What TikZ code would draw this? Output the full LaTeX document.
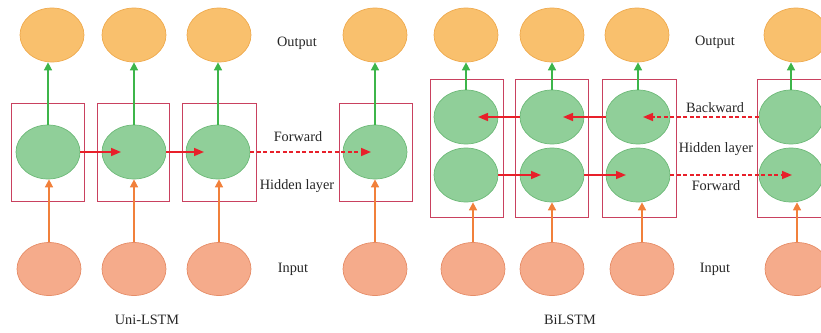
\documentclass[tikz,border=0pt]{standalone}
\usepackage{fontspec}
\setmainfont{Liberation Serif}
\usetikzlibrary{shapes.geometric,arrows.meta}
\definecolor{outfill}{HTML}{F9C06D}
\definecolor{outdraw}{HTML}{EFAA4E}
\definecolor{hidfill}{HTML}{90CF99}
\definecolor{hiddraw}{HTML}{6DB978}
\definecolor{infill}{HTML}{F5AB8B}
\definecolor{indraw}{HTML}{E68D68}
\definecolor{boxc}{HTML}{C9415F}
\definecolor{redarr}{HTML}{E8202A}
\definecolor{grnarr}{HTML}{3DB54A}
\definecolor{orarr}{HTML}{F1803B}
\tikzset{
  outell/.style={ellipse,draw=outdraw,fill=outfill,line width=0.7pt,minimum width=64pt,minimum height=54pt,inner sep=0pt},
  hidell/.style={ellipse,draw=hiddraw,fill=hidfill,line width=0.7pt,minimum width=64pt,minimum height=54pt,inner sep=0pt},
  inell/.style={ellipse,draw=indraw,fill=infill,line width=0.7pt,minimum width=64pt,minimum height=53pt,inner sep=0pt},
  cellbox/.style={draw=boxc,line width=0.9pt},
  redfw/.style={draw=redarr,line width=1.5pt,-{Triangle[length=10pt,width=8pt]}},
  reddash/.style={redfw,dashed,dash pattern=on 4pt off 2.5pt},
  grnup/.style={draw=grnarr,line width=1.5pt,-{Triangle[length=8pt,width=8pt]}},
  orup/.style={draw=orarr,line width=1.5pt,-{Triangle[length=8pt,width=8pt]}},
  lbl/.style={font=\fontsize{14.3pt}{16pt}\selectfont,text=black!85,inner sep=0pt}
}
\begin{document}
\begin{tikzpicture}[x=1pt,y=-1pt]
\useasboundingbox (0,0) rectangle (821,332);
\begin{scope}
\clip (0,0) rectangle (821,332);
% ---------------- Uni-LSTM ----------------
\draw[cellbox] (11,103) rectangle (84,201);
\draw[cellbox] (97,103) rectangle (169,201);
\draw[cellbox] (182,103) rectangle (256,201);
\draw[cellbox] (339,103) rectangle (412,201);

\node[outell] (uo1) at (52,35) {};
\node[outell] (uo2) at (134,35) {};
\node[outell] (uo3) at (219,35) {};
\node[outell] (uo4) at (375,35) {};

\node[hidell] (uh1) at (48,152) {};
\node[hidell] (uh2) at (134,152) {};
\node[hidell] (uh3) at (218,152) {};
\node[hidell] (uh4) at (375,152) {};

\node[inell] (ui1) at (49,269) {};
\node[inell] (ui2) at (134,269) {};
\node[inell] (ui3) at (219,269) {};
\node[inell] (ui4) at (375,269) {};

\foreach \i in {1,2,3,4}{
  \draw[grnup] (uh\i.north) -- (uh\i.north |- uo\i.south);
  \draw[orup] (ui\i.north) -- (ui\i.north |- uh\i.south);
}
\draw[redfw] (uh1.east) -- ([xshift=-13pt]uh2.center);
\draw[redfw] (uh2.east) -- ([xshift=-14pt]uh3.center);
\draw[reddash] (uh3.east) -- ([xshift=-4pt]uh4.center);

\node[lbl] (uoutl) at (297,43) {Output};
\node[lbl] (ufwl) at (298,137) {Forward};
\node[lbl] (uhidl) at (297,186) {Hidden layer};
\node[lbl] (uinl) at (293,269) {Input};
\node[lbl] (utitle) at (147,320) {Uni-LSTM};

% ---------------- BiLSTM ----------------
\draw[cellbox] (430,79) rectangle (503,217);
\draw[cellbox] (515,79) rectangle (588,217);
\draw[cellbox] (602,79) rectangle (676,217);
\draw[cellbox] (757,79) rectangle (832,217);

\node[outell] (bo1) at (466,35) {};
\node[outell] (bo2) at (552,35) {};
\node[outell] (bo3) at (637,35) {};
\node[outell] (bo4) at (796,35) {};

\node[hidell] (bb1) at (466,117) {};
\node[hidell] (bb2) at (552,117) {};
\node[hidell] (bb3) at (638,117) {};
\node[hidell] (bb4) at (791,117) {};

\node[hidell] (bf1) at (466,175) {};
\node[hidell] (bf2) at (552,175) {};
\node[hidell] (bf3) at (638,175) {};
\node[hidell] (bf4) at (791,175) {};

\node[inell] (bi1) at (473,269) {};
\node[inell] (bi2) at (552,269) {};
\node[inell] (bi3) at (642,269) {};
\node[inell] (bi4) at (797,269) {};

\foreach \i in {1,2,3,4}{
  \draw[grnup] (bb\i.north) -- (bb\i.north |- bo\i.south);
}
\draw[orup] (bi1.north) -- (bi1.north |- bf1.south);
\draw[orup] (bi2.north) -- (bi2.north |- bf2.south);
\draw[orup] (bi3.north) -- (bi3.north |- bf3.south);
\draw[orup] (bi4.north) -- (bi4.north |- bf4.south);

\draw[redfw] (bb2.west) -- ([xshift=12pt]bb1.center);
\draw[redfw] (bb3.west) -- ([xshift=11pt]bb2.center);
\draw[reddash] (bb4.west) -- ([xshift=5pt]bb3.center);

\draw[redfw] (bf1.east) -- ([xshift=-11pt]bf2.center);
\draw[redfw] (bf2.east) -- ([xshift=-12pt]bf3.center);
\draw[reddash] (bf3.east) -- ([xshift=1pt]bf4.center);

\node[lbl] (boutl) at (715,42) {Output};
\node[lbl] (bbwl) at (715,108) {Backward};
\node[lbl] (bhidl) at (716,149) {Hidden layer};
\node[lbl] (bfwl) at (716,186) {Forward};
\node[lbl] (binl) at (715,269) {Input};
\node[lbl] (btitle) at (570,320) {BiLSTM};
\end{scope}
\end{tikzpicture}
\end{document}
